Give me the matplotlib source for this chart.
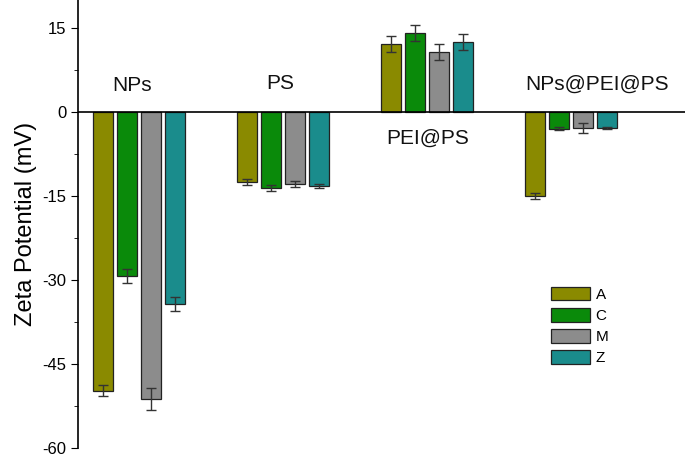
import matplotlib.pyplot as plt
import numpy as np

plt.rcParams['font.family'] = ['Liberation Sans', 'DejaVu Sans']
plt.rcParams['axes.unicode_minus'] = False

groups = ['NPs', 'PS', 'PEI@PS', 'NPs@PEI@PS']
series = ['A', 'C', 'M', 'Z']
colors = ['#8a8a00', '#0a8a0a', '#8c8c8c', '#1a8c8c']

# zeta potential (mV) per series, in group order
vals = {
    'A': [-49.8, -12.5, 12.1, -15.0],
    'C': [-29.3, -13.6, 14.1, -3.0],
    'M': [-51.2, -12.9, 10.7, -2.9],
    'Z': [-34.3, -13.2, 12.5, -2.8],
}
errs = {
    'A': [1.0, 0.5, 1.4, 0.6],
    'C': [1.2, 0.5, 1.4, 0.3],
    'M': [2.0, 0.5, 1.4, 0.9],
    'Z': [1.3, 0.4, 1.4, 0.2],
}
label_x = [-0.05, -0.02, 0.0, 0.18]
label_y = [4.8, 5.0, -4.6, 5.0]

fig = plt.figure(figsize=(6.85, 4.57), dpi=100)
ax = fig.add_axes([0.114, 0.0197, 0.886, 0.9803])

x = np.arange(len(groups))
offs = [-0.25, -0.0833, 0.0833, 0.25]
w = 0.139
for s, c, o in zip(series, colors, offs):
    ax.bar(x + o, vals[s], w, color=c, edgecolor='#222222', linewidth=0.9,
           label=s, zorder=2)
    ax.errorbar(x + o, vals[s], yerr=errs[s], fmt='none', ecolor='#333333',
                elinewidth=1, capsize=3.5, capthick=1, zorder=3)

for xi, dx, g, ly in zip(x, label_x, groups, label_y):
    ax.text(xi + dx, ly, g, ha='center', va='center', fontsize=15, color='#111111')

ax.axhline(0, color='black', lw=1.2, zorder=4)
ax.set_xlim(-0.424, 3.79)
ax.set_ylim(-60, 20)
ax.set_yticks([-60, -45, -30, -15, 0, 15])
ax.set_yticks(np.arange(-52.5, 20, 15), minor=True)
ax.tick_params(axis='y', which='major', length=5, labelsize=12, direction='out')
ax.tick_params(axis='y', which='minor', length=3, direction='out')
ax.set_xticks([])
for sp in ['top', 'right', 'bottom']:
    ax.spines[sp].set_visible(False)
ax.spines['left'].set_linewidth(1.2)
ax.set_ylabel('Zeta Potential (mV)', fontsize=17, labelpad=4)

ax.legend(loc='upper left', bbox_to_anchor=(0.766, 0.377), frameon=False,
          fontsize=11, handlelength=2.55, handleheight=1.0, handletextpad=0.4,
          labelspacing=0.4, borderpad=0)

fig.savefig('out.png', dpi=100)
